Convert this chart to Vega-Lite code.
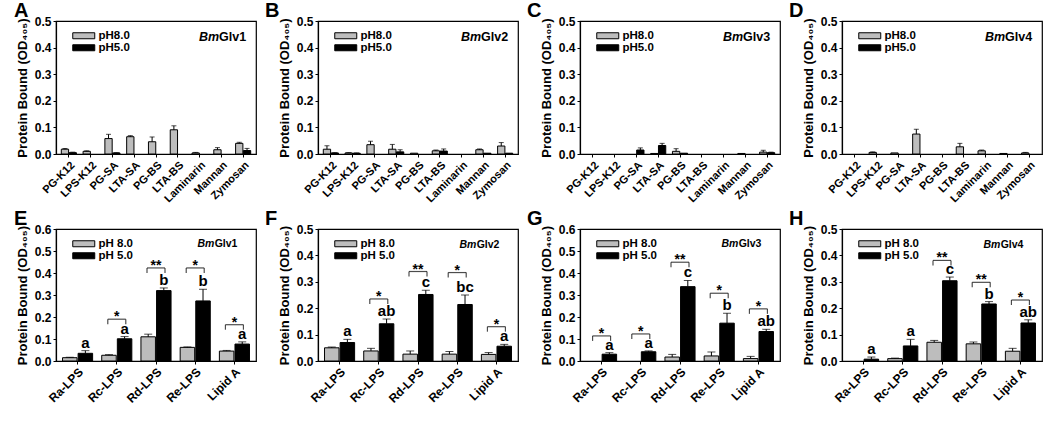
{
"$schema": "https://vega.github.io/schema/vega-lite/v6.json",
"padding": {"left": 13, "top": 0, "right": 0, "bottom": 0},
"spacing": 3,
"resolve": {"scale": {"color": "independent"}, "legend": {"color": "independent"}},
"datasets": {
"b": [
{"p":"A","c":"PG-K12","ph":"pH8.0","v":0.018,"e":0.003},
{"p":"A","c":"PG-K12","ph":"pH5.0","v":0.005,"e":0.002},
{"p":"A","c":"LPS-K12","ph":"pH8.0","v":0.010,"e":0.002},
{"p":"A","c":"PG-SA","ph":"pH8.0","v":0.058,"e":0.016},
{"p":"A","c":"PG-SA","ph":"pH5.0","v":0.004,"e":0.001},
{"p":"A","c":"LTA-SA","ph":"pH8.0","v":0.065,"e":0.004},
{"p":"A","c":"PG-BS","ph":"pH8.0","v":0.046,"e":0.018},
{"p":"A","c":"LTA-BS","ph":"pH8.0","v":0.091,"e":0.015},
{"p":"A","c":"Laminarin","ph":"pH8.0","v":0.004,"e":0.002},
{"p":"A","c":"Mannan","ph":"pH8.0","v":0.016,"e":0.008},
{"p":"A","c":"Zymosan","ph":"pH8.0","v":0.040,"e":0.004},
{"p":"A","c":"Zymosan","ph":"pH5.0","v":0.013,"e":0.008},
{"p":"B","c":"PG-K12","ph":"pH8.0","v":0.018,"e":0.013},
{"p":"B","c":"PG-K12","ph":"pH5.0","v":0.004,"e":0.001},
{"p":"B","c":"LPS-K12","ph":"pH8.0","v":0.004,"e":0.001},
{"p":"B","c":"LPS-K12","ph":"pH5.0","v":0.003,"e":0.001},
{"p":"B","c":"PG-SA","ph":"pH8.0","v":0.035,"e":0.013},
{"p":"B","c":"LTA-SA","ph":"pH8.0","v":0.018,"e":0.018},
{"p":"B","c":"LTA-SA","ph":"pH5.0","v":0.008,"e":0.008},
{"p":"B","c":"PG-BS","ph":"pH8.0","v":0.003,"e":0},
{"p":"B","c":"LTA-BS","ph":"pH8.0","v":0.012,"e":0.003},
{"p":"B","c":"LTA-BS","ph":"pH5.0","v":0.011,"e":0.008},
{"p":"B","c":"Mannan","ph":"pH8.0","v":0.016,"e":0.003},
{"p":"B","c":"Mannan","ph":"pH5.0","v":0.003,"e":0},
{"p":"B","c":"Zymosan","ph":"pH8.0","v":0.030,"e":0.013},
{"p":"B","c":"Zymosan","ph":"pH5.0","v":0.003,"e":0},
{"p":"C","c":"PG-SA","ph":"pH5.0","v":0.015,"e":0.008},
{"p":"C","c":"LTA-SA","ph":"pH8.0","v":0.002,"e":0},
{"p":"C","c":"LTA-SA","ph":"pH5.0","v":0.032,"e":0.008},
{"p":"C","c":"PG-BS","ph":"pH8.0","v":0.010,"e":0.010},
{"p":"C","c":"PG-BS","ph":"pH5.0","v":0.003,"e":0},
{"p":"C","c":"Mannan","ph":"pH8.0","v":0.002,"e":0},
{"p":"C","c":"Zymosan","ph":"pH8.0","v":0.007,"e":0.007},
{"p":"C","c":"Zymosan","ph":"pH5.0","v":0.005,"e":0.002},
{"p":"D","c":"LPS-K12","ph":"pH8.0","v":0.006,"e":0.002},
{"p":"D","c":"PG-SA","ph":"pH8.0","v":0.004,"e":0},
{"p":"D","c":"LTA-SA","ph":"pH8.0","v":0.075,"e":0.018},
{"p":"D","c":"LTA-BS","ph":"pH8.0","v":0.027,"e":0.013},
{"p":"D","c":"Laminarin","ph":"pH8.0","v":0.012,"e":0.003},
{"p":"D","c":"Mannan","ph":"pH8.0","v":0.002,"e":0},
{"p":"D","c":"Zymosan","ph":"pH8.0","v":0.004,"e":0.002},
{"p":"E","c":"Ra-LPS","ph":"pH 8.0","v":0.015,"e":0.002},
{"p":"E","c":"Ra-LPS","ph":"pH 5.0","v":0.035,"e":0.012,"l":"a"},
{"p":"E","c":"Rc-LPS","ph":"pH 8.0","v":0.026,"e":0.003},
{"p":"E","c":"Rc-LPS","ph":"pH 5.0","v":0.101,"e":0.010,"l":"a"},
{"p":"E","c":"Rd-LPS","ph":"pH 8.0","v":0.110,"e":0.012},
{"p":"E","c":"Rd-LPS","ph":"pH 5.0","v":0.320,"e":0.012,"l":"b"},
{"p":"E","c":"Re-LPS","ph":"pH 8.0","v":0.062,"e":0.002},
{"p":"E","c":"Re-LPS","ph":"pH 5.0","v":0.273,"e":0.053,"l":"b"},
{"p":"E","c":"Lipid A","ph":"pH 8.0","v":0.045,"e":0.003},
{"p":"E","c":"Lipid A","ph":"pH 5.0","v":0.077,"e":0.010,"l":"a"},
{"p":"F","c":"Ra-LPS","ph":"pH 8.0","v":0.050,"e":0.003},
{"p":"F","c":"Ra-LPS","ph":"pH 5.0","v":0.070,"e":0.012,"l":"a"},
{"p":"F","c":"Rc-LPS","ph":"pH 8.0","v":0.038,"e":0.010},
{"p":"F","c":"Rc-LPS","ph":"pH 5.0","v":0.141,"e":0.018,"l":"ab"},
{"p":"F","c":"Rd-LPS","ph":"pH 8.0","v":0.026,"e":0.012},
{"p":"F","c":"Rd-LPS","ph":"pH 5.0","v":0.252,"e":0.016,"l":"c"},
{"p":"F","c":"Re-LPS","ph":"pH 8.0","v":0.026,"e":0.010},
{"p":"F","c":"Re-LPS","ph":"pH 5.0","v":0.214,"e":0.036,"l":"bc"},
{"p":"F","c":"Lipid A","ph":"pH 8.0","v":0.025,"e":0.007},
{"p":"F","c":"Lipid A","ph":"pH 5.0","v":0.056,"e":0.007,"l":"a"},
{"p":"G","c":"Ra-LPS","ph":"pH 5.0","v":0.031,"e":0.007,"l":"a"},
{"p":"G","c":"Rc-LPS","ph":"pH 5.0","v":0.042,"e":0.004,"l":"a"},
{"p":"G","c":"Rd-LPS","ph":"pH 8.0","v":0.018,"e":0.012},
{"p":"G","c":"Rd-LPS","ph":"pH 5.0","v":0.338,"e":0.028,"l":"c"},
{"p":"G","c":"Re-LPS","ph":"pH 8.0","v":0.023,"e":0.018},
{"p":"G","c":"Re-LPS","ph":"pH 5.0","v":0.172,"e":0.045,"l":"b"},
{"p":"G","c":"Lipid A","ph":"pH 8.0","v":0.011,"e":0.010},
{"p":"G","c":"Lipid A","ph":"pH 5.0","v":0.134,"e":0.010,"l":"ab"},
{"p":"H","c":"Ra-LPS","ph":"pH 5.0","v":0.007,"e":0.008,"l":"a"},
{"p":"H","c":"Rc-LPS","ph":"pH 8.0","v":0.009,"e":0.002},
{"p":"H","c":"Rc-LPS","ph":"pH 5.0","v":0.057,"e":0.025,"l":"a"},
{"p":"H","c":"Rd-LPS","ph":"pH 8.0","v":0.071,"e":0.007},
{"p":"H","c":"Rd-LPS","ph":"pH 5.0","v":0.304,"e":0.014,"l":"c"},
{"p":"H","c":"Re-LPS","ph":"pH 8.0","v":0.065,"e":0.007},
{"p":"H","c":"Re-LPS","ph":"pH 5.0","v":0.216,"e":0.009,"l":"b"},
{"p":"H","c":"Lipid A","ph":"pH 8.0","v":0.037,"e":0.011},
{"p":"H","c":"Lipid A","ph":"pH 5.0","v":0.144,"e":0.012,"l":"ab"}
],
"a": [
{"p":"E","c":"Rc-LPS","s":"*","y":0.19},
{"p":"E","c":"Rd-LPS","s":"**","y":0.423},
{"p":"E","c":"Re-LPS","s":"*","y":0.423},
{"p":"E","c":"Lipid A","s":"*","y":0.165},
{"p":"F","c":"Rc-LPS","s":"*","y":0.235},
{"p":"F","c":"Rd-LPS","s":"**","y":0.339},
{"p":"F","c":"Re-LPS","s":"*","y":0.335},
{"p":"F","c":"Lipid A","s":"*","y":0.13},
{"p":"G","c":"Ra-LPS","s":"*","y":0.114},
{"p":"G","c":"Rc-LPS","s":"*","y":0.123},
{"p":"G","c":"Rd-LPS","s":"**","y":0.449},
{"p":"G","c":"Re-LPS","s":"*","y":0.308},
{"p":"G","c":"Lipid A","s":"*","y":0.237},
{"p":"H","c":"Rd-LPS","s":"**","y":0.381},
{"p":"H","c":"Re-LPS","s":"**","y":0.298},
{"p":"H","c":"Lipid A","s":"*","y":0.231}
]
},
"vconcat": [
{"hconcat": [
{"title": {"text": "A", "dx": -42}, "width": 200, "height": 133,
 "encoding": {"x": {"field": "c", "type": "nominal", "title": null, "scale": {"type": "band", "domain": ["PG-K12","LPS-K12","PG-SA","LTA-SA","PG-BS","LTA-BS","Laminarin","Mannan","Zymosan"], "paddingInner": 0.3, "paddingOuter": 0.24}, "axis": {"labelAngle": -45, "labelFontSize": 11}}},
 "layer": [
 {"data": {"name": "b"}, "transform": [{"filter": "datum.p == 'A' && datum.ph == 'pH8.0'"}], "mark": {"type": "bar", "stroke": "black", "strokeWidth": 1, "width": 7.3, "xOffset": -3.9}, "encoding": {"y": {"field": "v", "type": "quantitative", "scale": {"domain": [0, 0.5]}, "axis": {"values": [0,0.1,0.2,0.3,0.4,0.5], "format": ".1f", "title": "Protein Bound (OD₄₀₅)"}}, "color": {"field": "ph", "type": "nominal", "scale": {"domain": ["pH8.0","pH5.0"], "range": ["#bdbdbd","#000000"]}, "legend": {"title": null}}}},
 {"data": {"name": "b"}, "transform": [{"filter": "datum.p == 'A' && datum.ph == 'pH5.0'"}], "mark": {"type": "bar", "stroke": "black", "strokeWidth": 1, "width": 7.3, "xOffset": 3.9}, "encoding": {"y": {"field": "v", "type": "quantitative", "scale": {"domain": [0, 0.5]}, "axis": {"values": [0,0.1,0.2,0.3,0.4,0.5], "format": ".1f", "title": "Protein Bound (OD₄₀₅)"}}, "color": {"field": "ph", "type": "nominal", "scale": {"domain": ["pH8.0","pH5.0"], "range": ["#bdbdbd","#000000"]}, "legend": {"title": null}}}},
 {"data": {"name": "b"}, "transform": [{"filter": "datum.p == 'A' && datum.ph == 'pH8.0' && datum.e > 0"}, {"calculate": "datum.v + datum.e", "as": "hi"}], "mark": {"type": "rule", "color": "black", "strokeWidth": 1, "xOffset": -3.9}, "encoding": {"y": {"field": "v", "type": "quantitative", "scale": {"domain": [0, 0.5]}, "axis": {"values": [0,0.1,0.2,0.3,0.4,0.5], "format": ".1f", "title": "Protein Bound (OD₄₀₅)"}}, "y2": {"field": "hi"}}},
 {"data": {"name": "b"}, "transform": [{"filter": "datum.p == 'A' && datum.ph == 'pH5.0' && datum.e > 0"}, {"calculate": "datum.v + datum.e", "as": "hi"}], "mark": {"type": "rule", "color": "black", "strokeWidth": 1, "xOffset": 3.9}, "encoding": {"y": {"field": "v", "type": "quantitative", "scale": {"domain": [0, 0.5]}, "axis": {"values": [0,0.1,0.2,0.3,0.4,0.5], "format": ".1f", "title": "Protein Bound (OD₄₀₅)"}}, "y2": {"field": "hi"}}},
 {"data": {"name": "b"}, "transform": [{"filter": "datum.p == 'A' && datum.ph == 'pH8.0' && datum.e > 0"}, {"calculate": "datum.v + datum.e", "as": "hi"}], "mark": {"type": "tick", "color": "black", "size": 5, "thickness": 1, "xOffset": -3.9}, "encoding": {"y": {"field": "hi", "type": "quantitative", "scale": {"domain": [0, 0.5]}, "axis": {"values": [0,0.1,0.2,0.3,0.4,0.5], "format": ".1f", "title": "Protein Bound (OD₄₀₅)"}}}},
 {"data": {"name": "b"}, "transform": [{"filter": "datum.p == 'A' && datum.ph == 'pH5.0' && datum.e > 0"}, {"calculate": "datum.v + datum.e", "as": "hi"}], "mark": {"type": "tick", "color": "black", "size": 5, "thickness": 1, "xOffset": 3.9}, "encoding": {"y": {"field": "hi", "type": "quantitative", "scale": {"domain": [0, 0.5]}, "axis": {"values": [0,0.1,0.2,0.3,0.4,0.5], "format": ".1f", "title": "Protein Bound (OD₄₀₅)"}}}},
 {"data": {"values": [{"c": "Zymosan"}]}, "mark": {"type": "text", "fontWeight": "bold", "fontSize": 12.5, "align": "right", "dx": 3}, "encoding": {"y": {"datum": 0.44, "type": "quantitative", "scale": {"domain": [0, 0.5]}, "axis": {"values": [0,0.1,0.2,0.3,0.4,0.5], "format": ".1f", "title": "Protein Bound (OD₄₀₅)"}}, "text": {"value": "Glv1"}}},
 {"data": {"values": [{"c": "Zymosan"}]}, "mark": {"type": "text", "fontWeight": "bold", "fontStyle": "italic", "fontSize": 12.5, "align": "right", "dx": -24}, "encoding": {"y": {"datum": 0.44, "type": "quantitative", "scale": {"domain": [0, 0.5]}, "axis": {"values": [0,0.1,0.2,0.3,0.4,0.5], "format": ".1f", "title": "Protein Bound (OD₄₀₅)"}}, "text": {"value": "Bm"}}}
]},
{"title": {"text": "B"}, "width": 200, "height": 133,
 "encoding": {"x": {"field": "c", "type": "nominal", "title": null, "scale": {"type": "band", "domain": ["PG-K12","LPS-K12","PG-SA","LTA-SA","PG-BS","LTA-BS","Laminarin","Mannan","Zymosan"], "paddingInner": 0.3, "paddingOuter": 0.24}, "axis": {"labelAngle": -45, "labelFontSize": 11}}},
 "layer": [
 {"data": {"name": "b"}, "transform": [{"filter": "datum.p == 'B' && datum.ph == 'pH8.0'"}], "mark": {"type": "bar", "stroke": "black", "strokeWidth": 1, "width": 7.3, "xOffset": -3.9}, "encoding": {"y": {"field": "v", "type": "quantitative", "scale": {"domain": [0, 0.5]}, "axis": {"values": [0,0.1,0.2,0.3,0.4,0.5], "format": ".1f", "title": "Protein Bound (OD₄₀₅)"}}, "color": {"field": "ph", "type": "nominal", "scale": {"domain": ["pH8.0","pH5.0"], "range": ["#bdbdbd","#000000"]}, "legend": {"title": null}}}},
 {"data": {"name": "b"}, "transform": [{"filter": "datum.p == 'B' && datum.ph == 'pH5.0'"}], "mark": {"type": "bar", "stroke": "black", "strokeWidth": 1, "width": 7.3, "xOffset": 3.9}, "encoding": {"y": {"field": "v", "type": "quantitative", "scale": {"domain": [0, 0.5]}, "axis": {"values": [0,0.1,0.2,0.3,0.4,0.5], "format": ".1f", "title": "Protein Bound (OD₄₀₅)"}}, "color": {"field": "ph", "type": "nominal", "scale": {"domain": ["pH8.0","pH5.0"], "range": ["#bdbdbd","#000000"]}, "legend": {"title": null}}}},
 {"data": {"name": "b"}, "transform": [{"filter": "datum.p == 'B' && datum.ph == 'pH8.0' && datum.e > 0"}, {"calculate": "datum.v + datum.e", "as": "hi"}], "mark": {"type": "rule", "color": "black", "strokeWidth": 1, "xOffset": -3.9}, "encoding": {"y": {"field": "v", "type": "quantitative", "scale": {"domain": [0, 0.5]}, "axis": {"values": [0,0.1,0.2,0.3,0.4,0.5], "format": ".1f", "title": "Protein Bound (OD₄₀₅)"}}, "y2": {"field": "hi"}}},
 {"data": {"name": "b"}, "transform": [{"filter": "datum.p == 'B' && datum.ph == 'pH5.0' && datum.e > 0"}, {"calculate": "datum.v + datum.e", "as": "hi"}], "mark": {"type": "rule", "color": "black", "strokeWidth": 1, "xOffset": 3.9}, "encoding": {"y": {"field": "v", "type": "quantitative", "scale": {"domain": [0, 0.5]}, "axis": {"values": [0,0.1,0.2,0.3,0.4,0.5], "format": ".1f", "title": "Protein Bound (OD₄₀₅)"}}, "y2": {"field": "hi"}}},
 {"data": {"name": "b"}, "transform": [{"filter": "datum.p == 'B' && datum.ph == 'pH8.0' && datum.e > 0"}, {"calculate": "datum.v + datum.e", "as": "hi"}], "mark": {"type": "tick", "color": "black", "size": 5, "thickness": 1, "xOffset": -3.9}, "encoding": {"y": {"field": "hi", "type": "quantitative", "scale": {"domain": [0, 0.5]}, "axis": {"values": [0,0.1,0.2,0.3,0.4,0.5], "format": ".1f", "title": "Protein Bound (OD₄₀₅)"}}}},
 {"data": {"name": "b"}, "transform": [{"filter": "datum.p == 'B' && datum.ph == 'pH5.0' && datum.e > 0"}, {"calculate": "datum.v + datum.e", "as": "hi"}], "mark": {"type": "tick", "color": "black", "size": 5, "thickness": 1, "xOffset": 3.9}, "encoding": {"y": {"field": "hi", "type": "quantitative", "scale": {"domain": [0, 0.5]}, "axis": {"values": [0,0.1,0.2,0.3,0.4,0.5], "format": ".1f", "title": "Protein Bound (OD₄₀₅)"}}}},
 {"data": {"values": [{"c": "Zymosan"}]}, "mark": {"type": "text", "fontWeight": "bold", "fontSize": 12.5, "align": "right", "dx": 3}, "encoding": {"y": {"datum": 0.44, "type": "quantitative", "scale": {"domain": [0, 0.5]}, "axis": {"values": [0,0.1,0.2,0.3,0.4,0.5], "format": ".1f", "title": "Protein Bound (OD₄₀₅)"}}, "text": {"value": "Glv2"}}},
 {"data": {"values": [{"c": "Zymosan"}]}, "mark": {"type": "text", "fontWeight": "bold", "fontStyle": "italic", "fontSize": 12.5, "align": "right", "dx": -24}, "encoding": {"y": {"datum": 0.44, "type": "quantitative", "scale": {"domain": [0, 0.5]}, "axis": {"values": [0,0.1,0.2,0.3,0.4,0.5], "format": ".1f", "title": "Protein Bound (OD₄₀₅)"}}, "text": {"value": "Bm"}}}
]},
{"title": {"text": "C"}, "width": 200, "height": 133,
 "encoding": {"x": {"field": "c", "type": "nominal", "title": null, "scale": {"type": "band", "domain": ["PG-K12","LPS-K12","PG-SA","LTA-SA","PG-BS","LTA-BS","Laminarin","Mannan","Zymosan"], "paddingInner": 0.3, "paddingOuter": 0.24}, "axis": {"labelAngle": -45, "labelFontSize": 11}}},
 "layer": [
 {"data": {"name": "b"}, "transform": [{"filter": "datum.p == 'C' && datum.ph == 'pH8.0'"}], "mark": {"type": "bar", "stroke": "black", "strokeWidth": 1, "width": 7.3, "xOffset": -3.9}, "encoding": {"y": {"field": "v", "type": "quantitative", "scale": {"domain": [0, 0.5]}, "axis": {"values": [0,0.1,0.2,0.3,0.4,0.5], "format": ".1f", "title": "Protein Bound (OD₄₀₅)"}}, "color": {"field": "ph", "type": "nominal", "scale": {"domain": ["pH8.0","pH5.0"], "range": ["#bdbdbd","#000000"]}, "legend": {"title": null}}}},
 {"data": {"name": "b"}, "transform": [{"filter": "datum.p == 'C' && datum.ph == 'pH5.0'"}], "mark": {"type": "bar", "stroke": "black", "strokeWidth": 1, "width": 7.3, "xOffset": 3.9}, "encoding": {"y": {"field": "v", "type": "quantitative", "scale": {"domain": [0, 0.5]}, "axis": {"values": [0,0.1,0.2,0.3,0.4,0.5], "format": ".1f", "title": "Protein Bound (OD₄₀₅)"}}, "color": {"field": "ph", "type": "nominal", "scale": {"domain": ["pH8.0","pH5.0"], "range": ["#bdbdbd","#000000"]}, "legend": {"title": null}}}},
 {"data": {"name": "b"}, "transform": [{"filter": "datum.p == 'C' && datum.ph == 'pH8.0' && datum.e > 0"}, {"calculate": "datum.v + datum.e", "as": "hi"}], "mark": {"type": "rule", "color": "black", "strokeWidth": 1, "xOffset": -3.9}, "encoding": {"y": {"field": "v", "type": "quantitative", "scale": {"domain": [0, 0.5]}, "axis": {"values": [0,0.1,0.2,0.3,0.4,0.5], "format": ".1f", "title": "Protein Bound (OD₄₀₅)"}}, "y2": {"field": "hi"}}},
 {"data": {"name": "b"}, "transform": [{"filter": "datum.p == 'C' && datum.ph == 'pH5.0' && datum.e > 0"}, {"calculate": "datum.v + datum.e", "as": "hi"}], "mark": {"type": "rule", "color": "black", "strokeWidth": 1, "xOffset": 3.9}, "encoding": {"y": {"field": "v", "type": "quantitative", "scale": {"domain": [0, 0.5]}, "axis": {"values": [0,0.1,0.2,0.3,0.4,0.5], "format": ".1f", "title": "Protein Bound (OD₄₀₅)"}}, "y2": {"field": "hi"}}},
 {"data": {"name": "b"}, "transform": [{"filter": "datum.p == 'C' && datum.ph == 'pH8.0' && datum.e > 0"}, {"calculate": "datum.v + datum.e", "as": "hi"}], "mark": {"type": "tick", "color": "black", "size": 5, "thickness": 1, "xOffset": -3.9}, "encoding": {"y": {"field": "hi", "type": "quantitative", "scale": {"domain": [0, 0.5]}, "axis": {"values": [0,0.1,0.2,0.3,0.4,0.5], "format": ".1f", "title": "Protein Bound (OD₄₀₅)"}}}},
 {"data": {"name": "b"}, "transform": [{"filter": "datum.p == 'C' && datum.ph == 'pH5.0' && datum.e > 0"}, {"calculate": "datum.v + datum.e", "as": "hi"}], "mark": {"type": "tick", "color": "black", "size": 5, "thickness": 1, "xOffset": 3.9}, "encoding": {"y": {"field": "hi", "type": "quantitative", "scale": {"domain": [0, 0.5]}, "axis": {"values": [0,0.1,0.2,0.3,0.4,0.5], "format": ".1f", "title": "Protein Bound (OD₄₀₅)"}}}},
 {"data": {"values": [{"c": "Zymosan"}]}, "mark": {"type": "text", "fontWeight": "bold", "fontSize": 12.5, "align": "right", "dx": 3}, "encoding": {"y": {"datum": 0.44, "type": "quantitative", "scale": {"domain": [0, 0.5]}, "axis": {"values": [0,0.1,0.2,0.3,0.4,0.5], "format": ".1f", "title": "Protein Bound (OD₄₀₅)"}}, "text": {"value": "Glv3"}}},
 {"data": {"values": [{"c": "Zymosan"}]}, "mark": {"type": "text", "fontWeight": "bold", "fontStyle": "italic", "fontSize": 12.5, "align": "right", "dx": -24}, "encoding": {"y": {"datum": 0.44, "type": "quantitative", "scale": {"domain": [0, 0.5]}, "axis": {"values": [0,0.1,0.2,0.3,0.4,0.5], "format": ".1f", "title": "Protein Bound (OD₄₀₅)"}}, "text": {"value": "Bm"}}}
]},
{"title": {"text": "D"}, "width": 200, "height": 133,
 "encoding": {"x": {"field": "c", "type": "nominal", "title": null, "scale": {"type": "band", "domain": ["PG-K12","LPS-K12","PG-SA","LTA-SA","PG-BS","LTA-BS","Laminarin","Mannan","Zymosan"], "paddingInner": 0.3, "paddingOuter": 0.24}, "axis": {"labelAngle": -45, "labelFontSize": 11}}},
 "layer": [
 {"data": {"name": "b"}, "transform": [{"filter": "datum.p == 'D' && datum.ph == 'pH8.0'"}], "mark": {"type": "bar", "stroke": "black", "strokeWidth": 1, "width": 7.3, "xOffset": -3.9}, "encoding": {"y": {"field": "v", "type": "quantitative", "scale": {"domain": [0, 0.5]}, "axis": {"values": [0,0.1,0.2,0.3,0.4,0.5], "format": ".1f", "title": "Protein Bound (OD₄₀₅)"}}, "color": {"field": "ph", "type": "nominal", "scale": {"domain": ["pH8.0","pH5.0"], "range": ["#bdbdbd","#000000"]}, "legend": {"title": null}}}},
 {"data": {"name": "b"}, "transform": [{"filter": "datum.p == 'D' && datum.ph == 'pH5.0'"}], "mark": {"type": "bar", "stroke": "black", "strokeWidth": 1, "width": 7.3, "xOffset": 3.9}, "encoding": {"y": {"field": "v", "type": "quantitative", "scale": {"domain": [0, 0.5]}, "axis": {"values": [0,0.1,0.2,0.3,0.4,0.5], "format": ".1f", "title": "Protein Bound (OD₄₀₅)"}}, "color": {"field": "ph", "type": "nominal", "scale": {"domain": ["pH8.0","pH5.0"], "range": ["#bdbdbd","#000000"]}, "legend": {"title": null}}}},
 {"data": {"name": "b"}, "transform": [{"filter": "datum.p == 'D' && datum.ph == 'pH8.0' && datum.e > 0"}, {"calculate": "datum.v + datum.e", "as": "hi"}], "mark": {"type": "rule", "color": "black", "strokeWidth": 1, "xOffset": -3.9}, "encoding": {"y": {"field": "v", "type": "quantitative", "scale": {"domain": [0, 0.5]}, "axis": {"values": [0,0.1,0.2,0.3,0.4,0.5], "format": ".1f", "title": "Protein Bound (OD₄₀₅)"}}, "y2": {"field": "hi"}}},
 {"data": {"name": "b"}, "transform": [{"filter": "datum.p == 'D' && datum.ph == 'pH5.0' && datum.e > 0"}, {"calculate": "datum.v + datum.e", "as": "hi"}], "mark": {"type": "rule", "color": "black", "strokeWidth": 1, "xOffset": 3.9}, "encoding": {"y": {"field": "v", "type": "quantitative", "scale": {"domain": [0, 0.5]}, "axis": {"values": [0,0.1,0.2,0.3,0.4,0.5], "format": ".1f", "title": "Protein Bound (OD₄₀₅)"}}, "y2": {"field": "hi"}}},
 {"data": {"name": "b"}, "transform": [{"filter": "datum.p == 'D' && datum.ph == 'pH8.0' && datum.e > 0"}, {"calculate": "datum.v + datum.e", "as": "hi"}], "mark": {"type": "tick", "color": "black", "size": 5, "thickness": 1, "xOffset": -3.9}, "encoding": {"y": {"field": "hi", "type": "quantitative", "scale": {"domain": [0, 0.5]}, "axis": {"values": [0,0.1,0.2,0.3,0.4,0.5], "format": ".1f", "title": "Protein Bound (OD₄₀₅)"}}}},
 {"data": {"name": "b"}, "transform": [{"filter": "datum.p == 'D' && datum.ph == 'pH5.0' && datum.e > 0"}, {"calculate": "datum.v + datum.e", "as": "hi"}], "mark": {"type": "tick", "color": "black", "size": 5, "thickness": 1, "xOffset": 3.9}, "encoding": {"y": {"field": "hi", "type": "quantitative", "scale": {"domain": [0, 0.5]}, "axis": {"values": [0,0.1,0.2,0.3,0.4,0.5], "format": ".1f", "title": "Protein Bound (OD₄₀₅)"}}}},
 {"data": {"values": [{"c": "Zymosan"}]}, "mark": {"type": "text", "fontWeight": "bold", "fontSize": 12.5, "align": "right", "dx": 3}, "encoding": {"y": {"datum": 0.44, "type": "quantitative", "scale": {"domain": [0, 0.5]}, "axis": {"values": [0,0.1,0.2,0.3,0.4,0.5], "format": ".1f", "title": "Protein Bound (OD₄₀₅)"}}, "text": {"value": "Glv4"}}},
 {"data": {"values": [{"c": "Zymosan"}]}, "mark": {"type": "text", "fontWeight": "bold", "fontStyle": "italic", "fontSize": 12.5, "align": "right", "dx": -24}, "encoding": {"y": {"datum": 0.44, "type": "quantitative", "scale": {"domain": [0, 0.5]}, "axis": {"values": [0,0.1,0.2,0.3,0.4,0.5], "format": ".1f", "title": "Protein Bound (OD₄₀₅)"}}, "text": {"value": "Bm"}}}
]}
], "spacing": 7, "resolve": {"scale": {"color": "independent"}, "legend": {"color": "independent"}}},
{"hconcat": [
{"title": {"text": "E", "dx": -42}, "width": 200, "height": 132,
 "encoding": {"x": {"field": "c", "type": "nominal", "title": null, "scale": {"type": "band", "domain": ["Ra-LPS","Rc-LPS","Rd-LPS","Re-LPS","Lipid A"], "paddingInner": 0.22, "paddingOuter": 0.16}, "axis": {"labelAngle": -45, "labelFontSize": 12}}},
 "layer": [
 {"data": {"name": "b"}, "transform": [{"filter": "datum.p == 'E' && datum.ph == 'pH 8.0'"}], "mark": {"type": "bar", "stroke": "black", "strokeWidth": 1, "width": 14.5, "xOffset": -7.8}, "encoding": {"y": {"field": "v", "type": "quantitative", "scale": {"domain": [0, 0.6]}, "axis": {"values": [0,0.1,0.2,0.3,0.4,0.5,0.6], "format": ".1f", "title": "Protein Bound (OD₄₀₅)"}}, "color": {"field": "ph", "type": "nominal", "scale": {"domain": ["pH 8.0","pH 5.0"], "range": ["#bdbdbd","#000000"]}, "legend": {"title": null}}}},
 {"data": {"name": "b"}, "transform": [{"filter": "datum.p == 'E' && datum.ph == 'pH 5.0'"}], "mark": {"type": "bar", "stroke": "black", "strokeWidth": 1, "width": 14.5, "xOffset": 7.8}, "encoding": {"y": {"field": "v", "type": "quantitative", "scale": {"domain": [0, 0.6]}, "axis": {"values": [0,0.1,0.2,0.3,0.4,0.5,0.6], "format": ".1f", "title": "Protein Bound (OD₄₀₅)"}}, "color": {"field": "ph", "type": "nominal", "scale": {"domain": ["pH 8.0","pH 5.0"], "range": ["#bdbdbd","#000000"]}, "legend": {"title": null}}}},
 {"data": {"name": "b"}, "transform": [{"filter": "datum.p == 'E' && datum.ph == 'pH 8.0' && datum.e > 0"}, {"calculate": "datum.v + datum.e", "as": "hi"}], "mark": {"type": "rule", "color": "black", "strokeWidth": 1, "xOffset": -7.8}, "encoding": {"y": {"field": "v", "type": "quantitative", "scale": {"domain": [0, 0.6]}, "axis": {"values": [0,0.1,0.2,0.3,0.4,0.5,0.6], "format": ".1f", "title": "Protein Bound (OD₄₀₅)"}}, "y2": {"field": "hi"}}},
 {"data": {"name": "b"}, "transform": [{"filter": "datum.p == 'E' && datum.ph == 'pH 5.0' && datum.e > 0"}, {"calculate": "datum.v + datum.e", "as": "hi"}], "mark": {"type": "rule", "color": "black", "strokeWidth": 1, "xOffset": 7.8}, "encoding": {"y": {"field": "v", "type": "quantitative", "scale": {"domain": [0, 0.6]}, "axis": {"values": [0,0.1,0.2,0.3,0.4,0.5,0.6], "format": ".1f", "title": "Protein Bound (OD₄₀₅)"}}, "y2": {"field": "hi"}}},
 {"data": {"name": "b"}, "transform": [{"filter": "datum.p == 'E' && datum.ph == 'pH 8.0' && datum.e > 0"}, {"calculate": "datum.v + datum.e", "as": "hi"}], "mark": {"type": "tick", "color": "black", "size": 8, "thickness": 1, "xOffset": -7.8}, "encoding": {"y": {"field": "hi", "type": "quantitative", "scale": {"domain": [0, 0.6]}, "axis": {"values": [0,0.1,0.2,0.3,0.4,0.5,0.6], "format": ".1f", "title": "Protein Bound (OD₄₀₅)"}}}},
 {"data": {"name": "b"}, "transform": [{"filter": "datum.p == 'E' && datum.ph == 'pH 5.0' && datum.e > 0"}, {"calculate": "datum.v + datum.e", "as": "hi"}], "mark": {"type": "tick", "color": "black", "size": 8, "thickness": 1, "xOffset": 7.8}, "encoding": {"y": {"field": "hi", "type": "quantitative", "scale": {"domain": [0, 0.6]}, "axis": {"values": [0,0.1,0.2,0.3,0.4,0.5,0.6], "format": ".1f", "title": "Protein Bound (OD₄₀₅)"}}}},
 {"data": {"name": "b"}, "transform": [{"filter": "datum.p == 'E' && isValid(datum.l)"}, {"calculate": "datum.v + datum.e", "as": "hi"}], "mark": {"type": "text", "fontWeight": "bold", "fontSize": 15, "baseline": "bottom", "xOffset": 7.8}, "encoding": {"y": {"field": "hi", "type": "quantitative", "scale": {"domain": [0, 0.6]}, "axis": {"values": [0,0.1,0.2,0.3,0.4,0.5,0.6], "format": ".1f", "title": "Protein Bound (OD₄₀₅)"}}, "text": {"field": "l"}}},
 {"data": {"name": "a"}, "transform": [{"filter": "datum.p == 'E'"}], "mark": {"type": "tick", "color": "black", "size": 18, "thickness": 1.2}, "encoding": {"y": {"field": "y", "type": "quantitative", "scale": {"domain": [0, 0.6]}, "axis": {"values": [0,0.1,0.2,0.3,0.4,0.5,0.6], "format": ".1f", "title": "Protein Bound (OD₄₀₅)"}}}},
 {"data": {"name": "a"}, "transform": [{"filter": "datum.p == 'E'"}], "mark": {"type": "tick", "orient": "vertical", "color": "black", "size": 5, "thickness": 1.2, "xOffset": -9, "yOffset": 2.5}, "encoding": {"y": {"field": "y", "type": "quantitative", "scale": {"domain": [0, 0.6]}, "axis": {"values": [0,0.1,0.2,0.3,0.4,0.5,0.6], "format": ".1f", "title": "Protein Bound (OD₄₀₅)"}}}},
 {"data": {"name": "a"}, "transform": [{"filter": "datum.p == 'E'"}], "mark": {"type": "tick", "orient": "vertical", "color": "black", "size": 5, "thickness": 1.2, "xOffset": 9, "yOffset": 2.5}, "encoding": {"y": {"field": "y", "type": "quantitative", "scale": {"domain": [0, 0.6]}, "axis": {"values": [0,0.1,0.2,0.3,0.4,0.5,0.6], "format": ".1f", "title": "Protein Bound (OD₄₀₅)"}}}},
 {"data": {"name": "a"}, "transform": [{"filter": "datum.p == 'E'"}], "mark": {"type": "text", "fontWeight": "bold", "fontSize": 14, "baseline": "alphabetic", "dy": 2}, "encoding": {"y": {"field": "y", "type": "quantitative", "scale": {"domain": [0, 0.6]}, "axis": {"values": [0,0.1,0.2,0.3,0.4,0.5,0.6], "format": ".1f", "title": "Protein Bound (OD₄₀₅)"}}, "text": {"field": "s"}}},
 {"data": {"values": [{"c": "Lipid A"}]}, "mark": {"type": "text", "fontWeight": "bold", "fontSize": 10.5, "align": "right", "dx": 3}, "encoding": {"y": {"datum": 0.53, "type": "quantitative", "scale": {"domain": [0, 0.6]}, "axis": {"values": [0,0.1,0.2,0.3,0.4,0.5,0.6], "format": ".1f", "title": "Protein Bound (OD₄₀₅)"}}, "text": {"value": "Glv1"}}},
 {"data": {"values": [{"c": "Lipid A"}]}, "mark": {"type": "text", "fontWeight": "bold", "fontStyle": "italic", "fontSize": 10.5, "align": "right", "dx": -20}, "encoding": {"y": {"datum": 0.53, "type": "quantitative", "scale": {"domain": [0, 0.6]}, "axis": {"values": [0,0.1,0.2,0.3,0.4,0.5,0.6], "format": ".1f", "title": "Protein Bound (OD₄₀₅)"}}, "text": {"value": "Bm"}}}
]},
{"title": {"text": "F"}, "width": 200, "height": 132,
 "encoding": {"x": {"field": "c", "type": "nominal", "title": null, "scale": {"type": "band", "domain": ["Ra-LPS","Rc-LPS","Rd-LPS","Re-LPS","Lipid A"], "paddingInner": 0.22, "paddingOuter": 0.16}, "axis": {"labelAngle": -45, "labelFontSize": 12}}},
 "layer": [
 {"data": {"name": "b"}, "transform": [{"filter": "datum.p == 'F' && datum.ph == 'pH 8.0'"}], "mark": {"type": "bar", "stroke": "black", "strokeWidth": 1, "width": 14.5, "xOffset": -7.8}, "encoding": {"y": {"field": "v", "type": "quantitative", "scale": {"domain": [0, 0.5]}, "axis": {"values": [0,0.1,0.2,0.3,0.4,0.5], "format": ".1f", "title": "Protein Bound (OD₄₀₅)"}}, "color": {"field": "ph", "type": "nominal", "scale": {"domain": ["pH 8.0","pH 5.0"], "range": ["#bdbdbd","#000000"]}, "legend": {"title": null}}}},
 {"data": {"name": "b"}, "transform": [{"filter": "datum.p == 'F' && datum.ph == 'pH 5.0'"}], "mark": {"type": "bar", "stroke": "black", "strokeWidth": 1, "width": 14.5, "xOffset": 7.8}, "encoding": {"y": {"field": "v", "type": "quantitative", "scale": {"domain": [0, 0.5]}, "axis": {"values": [0,0.1,0.2,0.3,0.4,0.5], "format": ".1f", "title": "Protein Bound (OD₄₀₅)"}}, "color": {"field": "ph", "type": "nominal", "scale": {"domain": ["pH 8.0","pH 5.0"], "range": ["#bdbdbd","#000000"]}, "legend": {"title": null}}}},
 {"data": {"name": "b"}, "transform": [{"filter": "datum.p == 'F' && datum.ph == 'pH 8.0' && datum.e > 0"}, {"calculate": "datum.v + datum.e", "as": "hi"}], "mark": {"type": "rule", "color": "black", "strokeWidth": 1, "xOffset": -7.8}, "encoding": {"y": {"field": "v", "type": "quantitative", "scale": {"domain": [0, 0.5]}, "axis": {"values": [0,0.1,0.2,0.3,0.4,0.5], "format": ".1f", "title": "Protein Bound (OD₄₀₅)"}}, "y2": {"field": "hi"}}},
 {"data": {"name": "b"}, "transform": [{"filter": "datum.p == 'F' && datum.ph == 'pH 5.0' && datum.e > 0"}, {"calculate": "datum.v + datum.e", "as": "hi"}], "mark": {"type": "rule", "color": "black", "strokeWidth": 1, "xOffset": 7.8}, "encoding": {"y": {"field": "v", "type": "quantitative", "scale": {"domain": [0, 0.5]}, "axis": {"values": [0,0.1,0.2,0.3,0.4,0.5], "format": ".1f", "title": "Protein Bound (OD₄₀₅)"}}, "y2": {"field": "hi"}}},
 {"data": {"name": "b"}, "transform": [{"filter": "datum.p == 'F' && datum.ph == 'pH 8.0' && datum.e > 0"}, {"calculate": "datum.v + datum.e", "as": "hi"}], "mark": {"type": "tick", "color": "black", "size": 8, "thickness": 1, "xOffset": -7.8}, "encoding": {"y": {"field": "hi", "type": "quantitative", "scale": {"domain": [0, 0.5]}, "axis": {"values": [0,0.1,0.2,0.3,0.4,0.5], "format": ".1f", "title": "Protein Bound (OD₄₀₅)"}}}},
 {"data": {"name": "b"}, "transform": [{"filter": "datum.p == 'F' && datum.ph == 'pH 5.0' && datum.e > 0"}, {"calculate": "datum.v + datum.e", "as": "hi"}], "mark": {"type": "tick", "color": "black", "size": 8, "thickness": 1, "xOffset": 7.8}, "encoding": {"y": {"field": "hi", "type": "quantitative", "scale": {"domain": [0, 0.5]}, "axis": {"values": [0,0.1,0.2,0.3,0.4,0.5], "format": ".1f", "title": "Protein Bound (OD₄₀₅)"}}}},
 {"data": {"name": "b"}, "transform": [{"filter": "datum.p == 'F' && isValid(datum.l)"}, {"calculate": "datum.v + datum.e", "as": "hi"}], "mark": {"type": "text", "fontWeight": "bold", "fontSize": 15, "baseline": "bottom", "xOffset": 7.8}, "encoding": {"y": {"field": "hi", "type": "quantitative", "scale": {"domain": [0, 0.5]}, "axis": {"values": [0,0.1,0.2,0.3,0.4,0.5], "format": ".1f", "title": "Protein Bound (OD₄₀₅)"}}, "text": {"field": "l"}}},
 {"data": {"name": "a"}, "transform": [{"filter": "datum.p == 'F'"}], "mark": {"type": "tick", "color": "black", "size": 18, "thickness": 1.2}, "encoding": {"y": {"field": "y", "type": "quantitative", "scale": {"domain": [0, 0.5]}, "axis": {"values": [0,0.1,0.2,0.3,0.4,0.5], "format": ".1f", "title": "Protein Bound (OD₄₀₅)"}}}},
 {"data": {"name": "a"}, "transform": [{"filter": "datum.p == 'F'"}], "mark": {"type": "tick", "orient": "vertical", "color": "black", "size": 5, "thickness": 1.2, "xOffset": -9, "yOffset": 2.5}, "encoding": {"y": {"field": "y", "type": "quantitative", "scale": {"domain": [0, 0.5]}, "axis": {"values": [0,0.1,0.2,0.3,0.4,0.5], "format": ".1f", "title": "Protein Bound (OD₄₀₅)"}}}},
 {"data": {"name": "a"}, "transform": [{"filter": "datum.p == 'F'"}], "mark": {"type": "tick", "orient": "vertical", "color": "black", "size": 5, "thickness": 1.2, "xOffset": 9, "yOffset": 2.5}, "encoding": {"y": {"field": "y", "type": "quantitative", "scale": {"domain": [0, 0.5]}, "axis": {"values": [0,0.1,0.2,0.3,0.4,0.5], "format": ".1f", "title": "Protein Bound (OD₄₀₅)"}}}},
 {"data": {"name": "a"}, "transform": [{"filter": "datum.p == 'F'"}], "mark": {"type": "text", "fontWeight": "bold", "fontSize": 14, "baseline": "alphabetic", "dy": 2}, "encoding": {"y": {"field": "y", "type": "quantitative", "scale": {"domain": [0, 0.5]}, "axis": {"values": [0,0.1,0.2,0.3,0.4,0.5], "format": ".1f", "title": "Protein Bound (OD₄₀₅)"}}, "text": {"field": "s"}}},
 {"data": {"values": [{"c": "Lipid A"}]}, "mark": {"type": "text", "fontWeight": "bold", "fontSize": 10.5, "align": "right", "dx": 3}, "encoding": {"y": {"datum": 0.44, "type": "quantitative", "scale": {"domain": [0, 0.5]}, "axis": {"values": [0,0.1,0.2,0.3,0.4,0.5], "format": ".1f", "title": "Protein Bound (OD₄₀₅)"}}, "text": {"value": "Glv2"}}},
 {"data": {"values": [{"c": "Lipid A"}]}, "mark": {"type": "text", "fontWeight": "bold", "fontStyle": "italic", "fontSize": 10.5, "align": "right", "dx": -20}, "encoding": {"y": {"datum": 0.44, "type": "quantitative", "scale": {"domain": [0, 0.5]}, "axis": {"values": [0,0.1,0.2,0.3,0.4,0.5], "format": ".1f", "title": "Protein Bound (OD₄₀₅)"}}, "text": {"value": "Bm"}}}
]},
{"title": {"text": "G"}, "width": 200, "height": 132,
 "encoding": {"x": {"field": "c", "type": "nominal", "title": null, "scale": {"type": "band", "domain": ["Ra-LPS","Rc-LPS","Rd-LPS","Re-LPS","Lipid A"], "paddingInner": 0.22, "paddingOuter": 0.16}, "axis": {"labelAngle": -45, "labelFontSize": 12}}},
 "layer": [
 {"data": {"name": "b"}, "transform": [{"filter": "datum.p == 'G' && datum.ph == 'pH 8.0'"}], "mark": {"type": "bar", "stroke": "black", "strokeWidth": 1, "width": 14.5, "xOffset": -7.8}, "encoding": {"y": {"field": "v", "type": "quantitative", "scale": {"domain": [0, 0.6]}, "axis": {"values": [0,0.1,0.2,0.3,0.4,0.5,0.6], "format": ".1f", "title": "Protein Bound (OD₄₀₅)"}}, "color": {"field": "ph", "type": "nominal", "scale": {"domain": ["pH 8.0","pH 5.0"], "range": ["#bdbdbd","#000000"]}, "legend": {"title": null}}}},
 {"data": {"name": "b"}, "transform": [{"filter": "datum.p == 'G' && datum.ph == 'pH 5.0'"}], "mark": {"type": "bar", "stroke": "black", "strokeWidth": 1, "width": 14.5, "xOffset": 7.8}, "encoding": {"y": {"field": "v", "type": "quantitative", "scale": {"domain": [0, 0.6]}, "axis": {"values": [0,0.1,0.2,0.3,0.4,0.5,0.6], "format": ".1f", "title": "Protein Bound (OD₄₀₅)"}}, "color": {"field": "ph", "type": "nominal", "scale": {"domain": ["pH 8.0","pH 5.0"], "range": ["#bdbdbd","#000000"]}, "legend": {"title": null}}}},
 {"data": {"name": "b"}, "transform": [{"filter": "datum.p == 'G' && datum.ph == 'pH 8.0' && datum.e > 0"}, {"calculate": "datum.v + datum.e", "as": "hi"}], "mark": {"type": "rule", "color": "black", "strokeWidth": 1, "xOffset": -7.8}, "encoding": {"y": {"field": "v", "type": "quantitative", "scale": {"domain": [0, 0.6]}, "axis": {"values": [0,0.1,0.2,0.3,0.4,0.5,0.6], "format": ".1f", "title": "Protein Bound (OD₄₀₅)"}}, "y2": {"field": "hi"}}},
 {"data": {"name": "b"}, "transform": [{"filter": "datum.p == 'G' && datum.ph == 'pH 5.0' && datum.e > 0"}, {"calculate": "datum.v + datum.e", "as": "hi"}], "mark": {"type": "rule", "color": "black", "strokeWidth": 1, "xOffset": 7.8}, "encoding": {"y": {"field": "v", "type": "quantitative", "scale": {"domain": [0, 0.6]}, "axis": {"values": [0,0.1,0.2,0.3,0.4,0.5,0.6], "format": ".1f", "title": "Protein Bound (OD₄₀₅)"}}, "y2": {"field": "hi"}}},
 {"data": {"name": "b"}, "transform": [{"filter": "datum.p == 'G' && datum.ph == 'pH 8.0' && datum.e > 0"}, {"calculate": "datum.v + datum.e", "as": "hi"}], "mark": {"type": "tick", "color": "black", "size": 8, "thickness": 1, "xOffset": -7.8}, "encoding": {"y": {"field": "hi", "type": "quantitative", "scale": {"domain": [0, 0.6]}, "axis": {"values": [0,0.1,0.2,0.3,0.4,0.5,0.6], "format": ".1f", "title": "Protein Bound (OD₄₀₅)"}}}},
 {"data": {"name": "b"}, "transform": [{"filter": "datum.p == 'G' && datum.ph == 'pH 5.0' && datum.e > 0"}, {"calculate": "datum.v + datum.e", "as": "hi"}], "mark": {"type": "tick", "color": "black", "size": 8, "thickness": 1, "xOffset": 7.8}, "encoding": {"y": {"field": "hi", "type": "quantitative", "scale": {"domain": [0, 0.6]}, "axis": {"values": [0,0.1,0.2,0.3,0.4,0.5,0.6], "format": ".1f", "title": "Protein Bound (OD₄₀₅)"}}}},
 {"data": {"name": "b"}, "transform": [{"filter": "datum.p == 'G' && isValid(datum.l)"}, {"calculate": "datum.v + datum.e", "as": "hi"}], "mark": {"type": "text", "fontWeight": "bold", "fontSize": 15, "baseline": "bottom", "xOffset": 7.8}, "encoding": {"y": {"field": "hi", "type": "quantitative", "scale": {"domain": [0, 0.6]}, "axis": {"values": [0,0.1,0.2,0.3,0.4,0.5,0.6], "format": ".1f", "title": "Protein Bound (OD₄₀₅)"}}, "text": {"field": "l"}}},
 {"data": {"name": "a"}, "transform": [{"filter": "datum.p == 'G'"}], "mark": {"type": "tick", "color": "black", "size": 18, "thickness": 1.2}, "encoding": {"y": {"field": "y", "type": "quantitative", "scale": {"domain": [0, 0.6]}, "axis": {"values": [0,0.1,0.2,0.3,0.4,0.5,0.6], "format": ".1f", "title": "Protein Bound (OD₄₀₅)"}}}},
 {"data": {"name": "a"}, "transform": [{"filter": "datum.p == 'G'"}], "mark": {"type": "tick", "orient": "vertical", "color": "black", "size": 5, "thickness": 1.2, "xOffset": -9, "yOffset": 2.5}, "encoding": {"y": {"field": "y", "type": "quantitative", "scale": {"domain": [0, 0.6]}, "axis": {"values": [0,0.1,0.2,0.3,0.4,0.5,0.6], "format": ".1f", "title": "Protein Bound (OD₄₀₅)"}}}},
 {"data": {"name": "a"}, "transform": [{"filter": "datum.p == 'G'"}], "mark": {"type": "tick", "orient": "vertical", "color": "black", "size": 5, "thickness": 1.2, "xOffset": 9, "yOffset": 2.5}, "encoding": {"y": {"field": "y", "type": "quantitative", "scale": {"domain": [0, 0.6]}, "axis": {"values": [0,0.1,0.2,0.3,0.4,0.5,0.6], "format": ".1f", "title": "Protein Bound (OD₄₀₅)"}}}},
 {"data": {"name": "a"}, "transform": [{"filter": "datum.p == 'G'"}], "mark": {"type": "text", "fontWeight": "bold", "fontSize": 14, "baseline": "alphabetic", "dy": 2}, "encoding": {"y": {"field": "y", "type": "quantitative", "scale": {"domain": [0, 0.6]}, "axis": {"values": [0,0.1,0.2,0.3,0.4,0.5,0.6], "format": ".1f", "title": "Protein Bound (OD₄₀₅)"}}, "text": {"field": "s"}}},
 {"data": {"values": [{"c": "Lipid A"}]}, "mark": {"type": "text", "fontWeight": "bold", "fontSize": 10.5, "align": "right", "dx": 3}, "encoding": {"y": {"datum": 0.53, "type": "quantitative", "scale": {"domain": [0, 0.6]}, "axis": {"values": [0,0.1,0.2,0.3,0.4,0.5,0.6], "format": ".1f", "title": "Protein Bound (OD₄₀₅)"}}, "text": {"value": "Glv3"}}},
 {"data": {"values": [{"c": "Lipid A"}]}, "mark": {"type": "text", "fontWeight": "bold", "fontStyle": "italic", "fontSize": 10.5, "align": "right", "dx": -20}, "encoding": {"y": {"datum": 0.53, "type": "quantitative", "scale": {"domain": [0, 0.6]}, "axis": {"values": [0,0.1,0.2,0.3,0.4,0.5,0.6], "format": ".1f", "title": "Protein Bound (OD₄₀₅)"}}, "text": {"value": "Bm"}}}
]},
{"title": {"text": "H"}, "width": 200, "height": 132,
 "encoding": {"x": {"field": "c", "type": "nominal", "title": null, "scale": {"type": "band", "domain": ["Ra-LPS","Rc-LPS","Rd-LPS","Re-LPS","Lipid A"], "paddingInner": 0.22, "paddingOuter": 0.16}, "axis": {"labelAngle": -45, "labelFontSize": 12}}},
 "layer": [
 {"data": {"name": "b"}, "transform": [{"filter": "datum.p == 'H' && datum.ph == 'pH 8.0'"}], "mark": {"type": "bar", "stroke": "black", "strokeWidth": 1, "width": 14.5, "xOffset": -7.8}, "encoding": {"y": {"field": "v", "type": "quantitative", "scale": {"domain": [0, 0.5]}, "axis": {"values": [0,0.1,0.2,0.3,0.4,0.5], "format": ".1f", "title": "Protein Bound (OD₄₀₅)"}}, "color": {"field": "ph", "type": "nominal", "scale": {"domain": ["pH 8.0","pH 5.0"], "range": ["#bdbdbd","#000000"]}, "legend": {"title": null}}}},
 {"data": {"name": "b"}, "transform": [{"filter": "datum.p == 'H' && datum.ph == 'pH 5.0'"}], "mark": {"type": "bar", "stroke": "black", "strokeWidth": 1, "width": 14.5, "xOffset": 7.8}, "encoding": {"y": {"field": "v", "type": "quantitative", "scale": {"domain": [0, 0.5]}, "axis": {"values": [0,0.1,0.2,0.3,0.4,0.5], "format": ".1f", "title": "Protein Bound (OD₄₀₅)"}}, "color": {"field": "ph", "type": "nominal", "scale": {"domain": ["pH 8.0","pH 5.0"], "range": ["#bdbdbd","#000000"]}, "legend": {"title": null}}}},
 {"data": {"name": "b"}, "transform": [{"filter": "datum.p == 'H' && datum.ph == 'pH 8.0' && datum.e > 0"}, {"calculate": "datum.v + datum.e", "as": "hi"}], "mark": {"type": "rule", "color": "black", "strokeWidth": 1, "xOffset": -7.8}, "encoding": {"y": {"field": "v", "type": "quantitative", "scale": {"domain": [0, 0.5]}, "axis": {"values": [0,0.1,0.2,0.3,0.4,0.5], "format": ".1f", "title": "Protein Bound (OD₄₀₅)"}}, "y2": {"field": "hi"}}},
 {"data": {"name": "b"}, "transform": [{"filter": "datum.p == 'H' && datum.ph == 'pH 5.0' && datum.e > 0"}, {"calculate": "datum.v + datum.e", "as": "hi"}], "mark": {"type": "rule", "color": "black", "strokeWidth": 1, "xOffset": 7.8}, "encoding": {"y": {"field": "v", "type": "quantitative", "scale": {"domain": [0, 0.5]}, "axis": {"values": [0,0.1,0.2,0.3,0.4,0.5], "format": ".1f", "title": "Protein Bound (OD₄₀₅)"}}, "y2": {"field": "hi"}}},
 {"data": {"name": "b"}, "transform": [{"filter": "datum.p == 'H' && datum.ph == 'pH 8.0' && datum.e > 0"}, {"calculate": "datum.v + datum.e", "as": "hi"}], "mark": {"type": "tick", "color": "black", "size": 8, "thickness": 1, "xOffset": -7.8}, "encoding": {"y": {"field": "hi", "type": "quantitative", "scale": {"domain": [0, 0.5]}, "axis": {"values": [0,0.1,0.2,0.3,0.4,0.5], "format": ".1f", "title": "Protein Bound (OD₄₀₅)"}}}},
 {"data": {"name": "b"}, "transform": [{"filter": "datum.p == 'H' && datum.ph == 'pH 5.0' && datum.e > 0"}, {"calculate": "datum.v + datum.e", "as": "hi"}], "mark": {"type": "tick", "color": "black", "size": 8, "thickness": 1, "xOffset": 7.8}, "encoding": {"y": {"field": "hi", "type": "quantitative", "scale": {"domain": [0, 0.5]}, "axis": {"values": [0,0.1,0.2,0.3,0.4,0.5], "format": ".1f", "title": "Protein Bound (OD₄₀₅)"}}}},
 {"data": {"name": "b"}, "transform": [{"filter": "datum.p == 'H' && isValid(datum.l)"}, {"calculate": "datum.v + datum.e", "as": "hi"}], "mark": {"type": "text", "fontWeight": "bold", "fontSize": 15, "baseline": "bottom", "xOffset": 7.8}, "encoding": {"y": {"field": "hi", "type": "quantitative", "scale": {"domain": [0, 0.5]}, "axis": {"values": [0,0.1,0.2,0.3,0.4,0.5], "format": ".1f", "title": "Protein Bound (OD₄₀₅)"}}, "text": {"field": "l"}}},
 {"data": {"name": "a"}, "transform": [{"filter": "datum.p == 'H'"}], "mark": {"type": "tick", "color": "black", "size": 18, "thickness": 1.2}, "encoding": {"y": {"field": "y", "type": "quantitative", "scale": {"domain": [0, 0.5]}, "axis": {"values": [0,0.1,0.2,0.3,0.4,0.5], "format": ".1f", "title": "Protein Bound (OD₄₀₅)"}}}},
 {"data": {"name": "a"}, "transform": [{"filter": "datum.p == 'H'"}], "mark": {"type": "tick", "orient": "vertical", "color": "black", "size": 5, "thickness": 1.2, "xOffset": -9, "yOffset": 2.5}, "encoding": {"y": {"field": "y", "type": "quantitative", "scale": {"domain": [0, 0.5]}, "axis": {"values": [0,0.1,0.2,0.3,0.4,0.5], "format": ".1f", "title": "Protein Bound (OD₄₀₅)"}}}},
 {"data": {"name": "a"}, "transform": [{"filter": "datum.p == 'H'"}], "mark": {"type": "tick", "orient": "vertical", "color": "black", "size": 5, "thickness": 1.2, "xOffset": 9, "yOffset": 2.5}, "encoding": {"y": {"field": "y", "type": "quantitative", "scale": {"domain": [0, 0.5]}, "axis": {"values": [0,0.1,0.2,0.3,0.4,0.5], "format": ".1f", "title": "Protein Bound (OD₄₀₅)"}}}},
 {"data": {"name": "a"}, "transform": [{"filter": "datum.p == 'H'"}], "mark": {"type": "text", "fontWeight": "bold", "fontSize": 14, "baseline": "alphabetic", "dy": 2}, "encoding": {"y": {"field": "y", "type": "quantitative", "scale": {"domain": [0, 0.5]}, "axis": {"values": [0,0.1,0.2,0.3,0.4,0.5], "format": ".1f", "title": "Protein Bound (OD₄₀₅)"}}, "text": {"field": "s"}}},
 {"data": {"values": [{"c": "Lipid A"}]}, "mark": {"type": "text", "fontWeight": "bold", "fontSize": 10.5, "align": "right", "dx": 3}, "encoding": {"y": {"datum": 0.44, "type": "quantitative", "scale": {"domain": [0, 0.5]}, "axis": {"values": [0,0.1,0.2,0.3,0.4,0.5], "format": ".1f", "title": "Protein Bound (OD₄₀₅)"}}, "text": {"value": "Glv4"}}},
 {"data": {"values": [{"c": "Lipid A"}]}, "mark": {"type": "text", "fontWeight": "bold", "fontStyle": "italic", "fontSize": 10.5, "align": "right", "dx": -20}, "encoding": {"y": {"datum": 0.44, "type": "quantitative", "scale": {"domain": [0, 0.5]}, "axis": {"values": [0,0.1,0.2,0.3,0.4,0.5], "format": ".1f", "title": "Protein Bound (OD₄₀₅)"}}, "text": {"value": "Bm"}}}
]}
], "spacing": 7, "resolve": {"scale": {"color": "independent"}, "legend": {"color": "independent"}}}
],
"config": {
 "font": "Liberation Sans",
 "background": "white",
 "view": {"stroke": "black", "strokeWidth": 1.2},
 "text": {"color": "black", "font": "Liberation Sans"},
 "axis": {"grid": false, "labelOverlap": false, "domainColor": "black", "domainWidth": 1.2, "tickColor": "black", "tickSize": 3, "labelColor": "black", "titleColor": "black", "labelFont": "Liberation Sans", "titleFont": "Liberation Sans", "labelFontWeight": "bold", "titleFontWeight": "bold", "labelFontSize": 12, "titleFontSize": 13, "labelPadding": 2},
 "axisY": {"titlePadding": 5},
 "title": {"fontSize": 20, "fontWeight": "bold", "font": "Liberation Sans", "color": "black", "anchor": "start", "frame": "group", "dx": -53, "offset": -6},
 "legend": {"orient": "top-left", "offset": 9, "symbolType": "M0.4,-0.6H4.8V0.6H0.4Z", "symbolSize": 100, "symbolStrokeColor": "black", "symbolStrokeWidth": 1, "symbolOpacity": 1, "labelFont": "Liberation Sans", "labelFontSize": 11.5, "labelFontWeight": "bold", "labelColor": "black", "rowPadding": -1, "labelOffset": 22, "padding": 0}
}
}
